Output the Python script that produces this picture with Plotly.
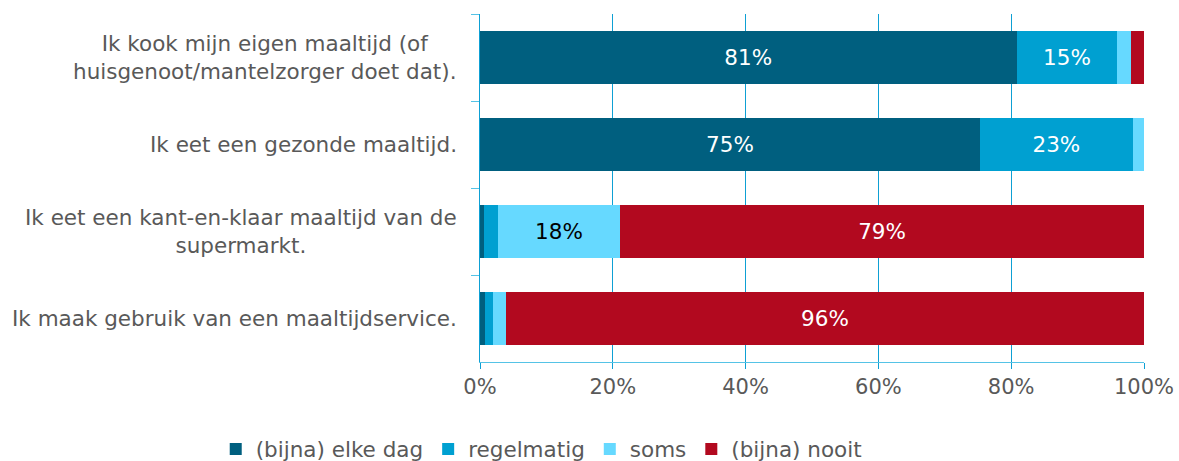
import plotly.graph_objects as go

categories = [
    "Ik kook mijn eigen maaltijd (of<br>huisgenoot/mantelzorger doet dat).",
    "Ik eet een gezonde maaltijd.",
    "Ik eet een kant-en-klaar maaltijd van de<br>supermarkt.",
    "Ik maak gebruik van een maaltijdservice.",
]
series_names = ["(bijna) elke dag", "regelmatig", "soms", "(bijna) nooit"]
elke_dag = [80.8, 75.3, 0.6, 0.8]
regelmatig = [15.2, 23.0, 2.1, 1.1]
soms = [2.1, 1.7, 18.4, 2.0]
nooit = [1.9, 0.0, 78.9, 96.1]
x_ticks = [0, 20, 40, 60, 80, 100]

series_values = [elke_dag, regelmatig, soms, nooit]
colors = ["#005f7f", "#00a0d1", "#66d9ff", "#b2091f"]
text_colors = ["white", "white", "black", "white"]

FONT = "DejaVu Sans, Verdana, sans-serif"
GRAY = "#595959"
GRID = "#0ea0d4"
LIGHT = "#55c3e6"

fig = go.Figure()
for name, vals, col, tcol in zip(series_names, series_values, colors, text_colors):
    labels = [f"{round(v)}%" if v >= 10 else "" for v in vals]
    fig.add_trace(go.Bar(
        y=categories, x=vals, name=name, orientation="h",
        marker=dict(color=col, line=dict(width=0)),
        text=labels, textposition="inside", insidetextanchor="middle",
        textangle=0, constraintext="none",
        textfont=dict(family=FONT, size=21.5, color=tcol),
        hoverinfo="skip",
    ))

for cat in categories:
    fig.add_annotation(
        x=0, xref="paper", y=cat, yref="y", text=cat,
        xanchor="right", yanchor="middle", align="center", xshift=-21,
        showarrow=False, font=dict(family=FONT, size=21.5, color=GRAY),
    )

fig.update_layout(
    width=1179, height=461,
    margin=dict(l=480, r=35, t=14, b=99, autoexpand=False),
    barmode="stack", bargap=0.38,
    plot_bgcolor="white", paper_bgcolor="white",
    font=dict(family=FONT, size=21.5, color=GRAY),
    showlegend=True,
    legend=dict(
        orientation="h", x=-0.398, xanchor="left", y=-0.25, yanchor="middle",
        font=dict(family=FONT, size=21.5, color=GRAY), traceorder="normal",
        bgcolor="rgba(0,0,0,0)",
    ),
    xaxis=dict(
        range=[0, 100], tickvals=x_ticks, ticktext=[f"{t}%" for t in x_ticks],
        showgrid=True, gridcolor=GRID, gridwidth=1.2, zeroline=False,
        showline=True, linecolor=LIGHT, linewidth=1.2,
        ticks="outside", ticklen=6, tickcolor=GRID, automargin=False,
        tickfont=dict(family=FONT, size=21, color=GRAY), fixedrange=True,
    ),
    yaxis=dict(
        autorange="reversed", showticklabels=False, showgrid=False,
        tickson="boundaries", ticks="outside", ticklen=8, tickcolor=LIGHT,
        showline=True, linecolor=GRID, linewidth=1.2, fixedrange=True,
        automargin=False,
    ),
)

fig.write_html(
    "out.html",
    config={"displayModeBar": False, "staticPlot": True},
    post_script="document.body.style.margin='0px';document.body.style.overflow='hidden';",
)
